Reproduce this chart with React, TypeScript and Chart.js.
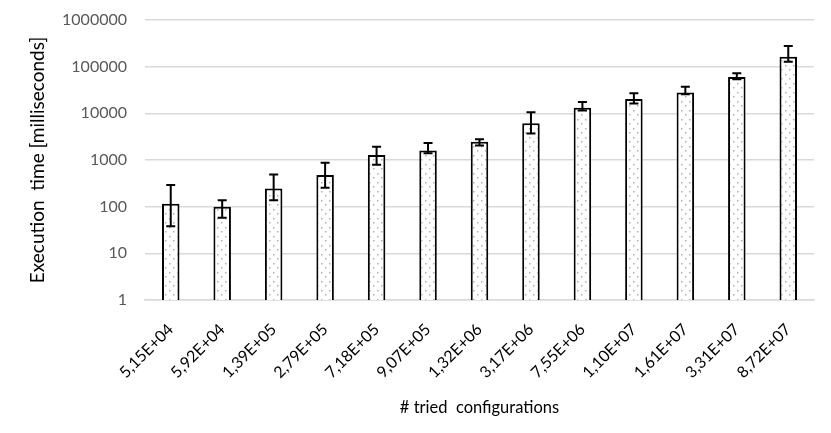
import React, { useEffect, useRef } from "react";
import { Chart, registerables } from "chart.js";

Chart.register(...registerables);

const categories = [
  "5,15E+04", "5,92E+04", "1,39E+05", "2,79E+05", "7,18E+05", "9,07E+05", "1,32E+06",
  "3,17E+06", "7,55E+06", "1,10E+07", "1,61E+07", "3,31E+07", "8,72E+07",
];
const execTimes = [115, 100, 245, 475, 1280, 1590, 2450, 6100, 13200, 20300, 28000, 60000, 163000];
const errLow = [38, 58, 138, 255, 790, 1390, 2050, 3700, 11500, 16200, 25600, 53700, 128000];
const errHigh = [290, 138, 490, 870, 1930, 2300, 2800, 10600, 17400, 26800, 37300, 72000, 276000];
const yTicks = [1, 10, 100, 1000, 10000, 100000, 1000000];

const FONT = "Lato, 'Open Sans', sans-serif";

const errorBarPlugin = {
  id: "errorBars",
  afterDatasetsDraw(chart: any) {
    const ctx = chart.ctx;
    const meta = chart.getDatasetMeta(0);
    const y = chart.scales.y;
    ctx.save();
    ctx.strokeStyle = "#000";
    ctx.lineWidth = 2;
    meta.data.forEach((bar: any, i: number) => {
      const x = bar.x;
      const yl = y.getPixelForValue(errLow[i]);
      const yh = y.getPixelForValue(errHigh[i]);
      ctx.beginPath();
      ctx.moveTo(x, yl);
      ctx.lineTo(x, yh);
      ctx.moveTo(x - 4.5, yl);
      ctx.lineTo(x + 4.5, yl);
      ctx.moveTo(x - 4.5, yh);
      ctx.lineTo(x + 4.5, yh);
      ctx.stroke();
    });
    ctx.restore();
  },
};

function makePattern(): CanvasPattern | string {
  const c = document.createElement("canvas");
  c.width = 8;
  c.height = 9;
  const g = c.getContext("2d");
  if (!g) return "#fff";
  g.fillStyle = "#ffffff";
  g.fillRect(0, 0, 8, 9);
  g.fillStyle = "#b0b0b0";
  g.fillRect(1, 2, 1.5, 1.5);
  g.fillRect(5, 6, 1.5, 1.5);
  return g.createPattern(c, "repeat") || "#fff";
}

export default function App() {
  const ref = useRef<HTMLCanvasElement>(null);
  useEffect(() => {
    document.body.style.margin = "0";
    if (!ref.current) return;
    const chart = new Chart(ref.current, {
      type: "bar",
      data: {
        labels: categories,
        datasets: [
          {
            data: execTimes,
            backgroundColor: makePattern() as any,
            borderColor: "#000",
            borderWidth: 2,
            categoryPercentage: 1,
            barPercentage: 0.34,
          },
        ],
      },
      plugins: [errorBarPlugin],
      options: {
        animation: false,
        responsive: false,
        layout: { padding: { left: 0, right: 17, top: 20, bottom: 0 } },
        plugins: { legend: { display: false }, tooltip: { enabled: false } },
        scales: {
          x: {
            afterFit(scale: any) {
              scale.height = 133;
            },
            grid: { display: false },
            border: { color: "#d9d9d9", width: 1.5 },
            ticks: {
              color: "#000",
              font: { family: FONT, size: 16 },
              maxRotation: 45,
              minRotation: 45,
              padding: 12,
            },
            title: {
              display: true,
              text: "# tried  configurations",
              color: "#000",
              font: { family: FONT, size: 16.5 },
              padding: { top: 0, bottom: 15 },
            },
          },
          y: {
            type: "logarithmic",
            min: 1,
            max: 1000000,
            afterDataLimits(scale: any) {
              scale.min = yTicks[0];
              scale.max = yTicks[yTicks.length - 1];
            },
            afterBuildTicks(scale: any) {
              scale.ticks = yTicks.map((v) => ({ value: v }));
              scale.min = yTicks[0];
              scale.max = yTicks[yTicks.length - 1];
            },
            afterFit(scale: any) {
              scale.width = 145;
              scale.paddingTop = 0;
              scale.paddingBottom = 0;
            },
            grid: { color: "#d9d9d9", lineWidth: 1.5, drawTicks: false },
            border: { display: false },
            ticks: {
              color: "#595959",
              font: { family: FONT, size: 16 },
              padding: 18,
              callback: (v: any) => String(v),
            },
            title: {
              display: true,
              text: "Execution  time [milliseconds]",
              color: "#000",
              font: { family: FONT, size: 19 },
              padding: { top: 26, bottom: 0 },
            },
          },
        },
      },
    });
    return () => chart.destroy();
  }, []);
  return (
    <div style={{ width: 831, height: 433, background: "#fff" }}>
      <canvas ref={ref} width={831} height={433} />
    </div>
  );
}
